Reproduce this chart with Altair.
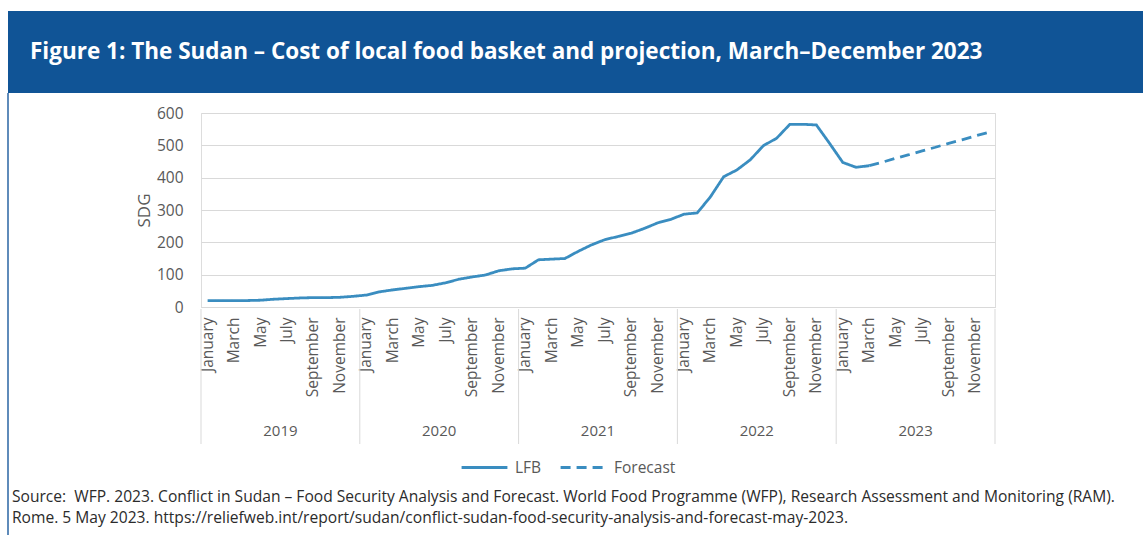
import json
import altair as alt
import pandas as pd

# ---------------- data ----------------
MONTH_NAMES = ["January", "February", "March", "April", "May", "June", "July",
               "August", "September", "October", "November", "December"]
YEARS = [2019, 2020, 2021, 2022, 2023]
MONTH_KEYS = [f"{y}-{m:02d}" for y in YEARS for m in range(1, 13)]

# Cost of local food basket (SDG), January 2019 - March 2023
LFB_VALUES = [
    20, 20, 20, 20, 21, 24, 26, 28, 29, 29, 30, 33,          # 2019
    37, 47, 53, 58, 63, 67, 75, 86, 93, 99, 112, 118,        # 2020
    120, 146, 148, 150, 172, 192, 208, 218, 228, 243, 260, 271,  # 2021
    287, 291, 341, 403, 424, 455, 499, 522, 565, 565, 563, 506,  # 2022
    447, 432, 437,                                           # 2023 Jan-Mar
]
# Projection, March - December 2023
FORECAST_VALUES = [437, 448, 460, 471, 483, 494, 506, 517, 529, 540]

SERIES = ["LFB", "Forecast"]
Y_TICKS = [0, 100, 200, 300, 400, 500, 600]

TITLE = "Figure 1: The Sudan \u2013 Cost of local food basket and projection, March\u2013December 2023"
SOURCE_LINE_1 = ("Source:\u00a0 WFP. 2023. Conflict in Sudan \u2013 Food Security Analysis and Forecast. "
                 "World Food Programme (WFP), Research Assessment and Monitoring (RAM).")
SOURCE_LINE_2 = ("Rome. 5 May 2023. https://reliefweb.int/report/sudan/"
                 "conflict-sudan-food-security-analysis-and-forecast-may-2023.")

lfb_months = MONTH_KEYS[:len(LFB_VALUES)]
fc_months = MONTH_KEYS[len(LFB_VALUES) - 1:]
df = pd.DataFrame({
    "month": lfb_months + fc_months,
    "value": LFB_VALUES + FORECAST_VALUES,
    "series": ["LFB"] * len(LFB_VALUES) + ["Forecast"] * len(FORECAST_VALUES),
})

LINE_COLOR = "#3a8dc0"
GRID = "#d9d9d9"
LABEL = "#595959"

PW, PH = 794, 194

xscale = alt.Scale(domain=MONTH_KEYS, type="band", paddingInner=0, paddingOuter=0)
names_js = json.dumps(MONTH_NAMES).replace('"', "'")
label_expr = (f"(toNumber(substring(datum.value,5,7)) % 2 == 1) ? "
              f"{names_js}[toNumber(substring(datum.value,5,7))-1] : ''")

legend_cfg = dict(title=None, orient="none", legendX=259, legendY=330, direction="horizontal")

line = alt.Chart(df).mark_line(strokeWidth=2.8).encode(
    x=alt.X("month:O", scale=xscale, bandPosition=0.5, sort=MONTH_KEYS,
            axis=alt.Axis(title=None, labelExpr=label_expr, labelAngle=270,
                          labelFontSize=15.5, labelColor=LABEL, labelPadding=10,
                          ticks=False, domain=True, domainColor=GRID,
                          labelOverlap=False, grid=False)),
    y=alt.Y("value:Q", scale=alt.Scale(domain=[0, 600], nice=False),
            axis=alt.Axis(values=Y_TICKS, title="SDG", titleFontSize=17,
                          titleFontWeight="normal", titleColor=LABEL,
                          titlePadding=3, labelFontSize=15.5, labelColor=LABEL,
                          labelPadding=18, domain=False, ticks=False,
                          gridColor=GRID, gridWidth=1)),
    color=alt.Color("series:N", scale=alt.Scale(domain=SERIES, range=[LINE_COLOR, LINE_COLOR]),
                    legend=alt.Legend(**legend_cfg)),
    strokeDash=alt.StrokeDash("series:N", scale=alt.Scale(domain=SERIES, range=[[1, 0], [10, 6]]),
                              legend=alt.Legend(**legend_cfg)),
)

year_starts = pd.DataFrame({"month": [f"{y}-01" for y in YEARS]})
sep_left = alt.Chart(year_starts).mark_rule(color=GRID, strokeWidth=1).encode(
    x=alt.X("month:O", scale=xscale, bandPosition=0),
    y=alt.value(PH + 2), y2=alt.value(PH + 137))
sep_right = alt.Chart(pd.DataFrame({"month": [MONTH_KEYS[-1]]})).mark_rule(color=GRID, strokeWidth=1).encode(
    x=alt.X("month:O", scale=xscale, bandPosition=1),
    y=alt.value(PH + 2), y2=alt.value(PH + 137))

year_df = pd.DataFrame({"month": [f"{y}-06" for y in YEARS], "year": [str(y) for y in YEARS]})
year_text = alt.Chart(year_df).mark_text(fontSize=15, color=LABEL, baseline="middle").encode(
    x=alt.X("month:O", scale=xscale, bandPosition=1),
    y=alt.value(PH + 124), text="year:N")

# header bar and title
one = pd.DataFrame({"t": [TITLE]})
header = alt.Chart(one).mark_rect(color="#105496").encode(
    x=alt.value(-193), x2=alt.value(1143 - 201), y=alt.value(-102), y2=alt.value(-20))
title = alt.Chart(one).mark_text(
    align="left", baseline="middle", fontSize=22.5, fontWeight="bold", color="white",
    font="Open Sans").encode(x=alt.value(30 - 201), y=alt.value(52 - 113), text="t:N")
left_border = alt.Chart(one).mark_rule(color="#2a65a3", strokeWidth=1.5).encode(
    x=alt.value(8 - 201), y=alt.value(-20), y2=alt.value(535 - 113))

src1 = alt.Chart(pd.DataFrame({"line": [SOURCE_LINE_1]})).mark_text(
    align="left", baseline="middle", fontSize=15.6, color="#2b2b2b").encode(
    x=alt.value(12 - 201), y=alt.value(497 - 113), text="line:N")
src2 = alt.Chart(pd.DataFrame({"line": [SOURCE_LINE_2]})).mark_text(
    align="left", baseline="middle", fontSize=15.6, color="#2b2b2b").encode(
    x=alt.value(12 - 201), y=alt.value(518 - 113), text="line:N")

chart = alt.layer(header, title, left_border, sep_left, sep_right, year_text, line, src1, src2).properties(
    width=PW, height=PH,
    autosize=alt.AutoSizeParams(type="none"),
    padding={"left": 201, "top": 113, "right": 1143 - 201 - PW, "bottom": 535 - 113 - PH},
    background="white",
).configure_view(stroke=None).configure(font="Open Sans").configure_legend(
    labelFontSize=15.5, labelColor=LABEL, symbolType="stroke", symbolSize=2100,
    symbolStrokeWidth=2.8, columnPadding=12, labelOffset=6)

chart.save("out.html", embed_options={"renderer": "svg", "actions": False})
